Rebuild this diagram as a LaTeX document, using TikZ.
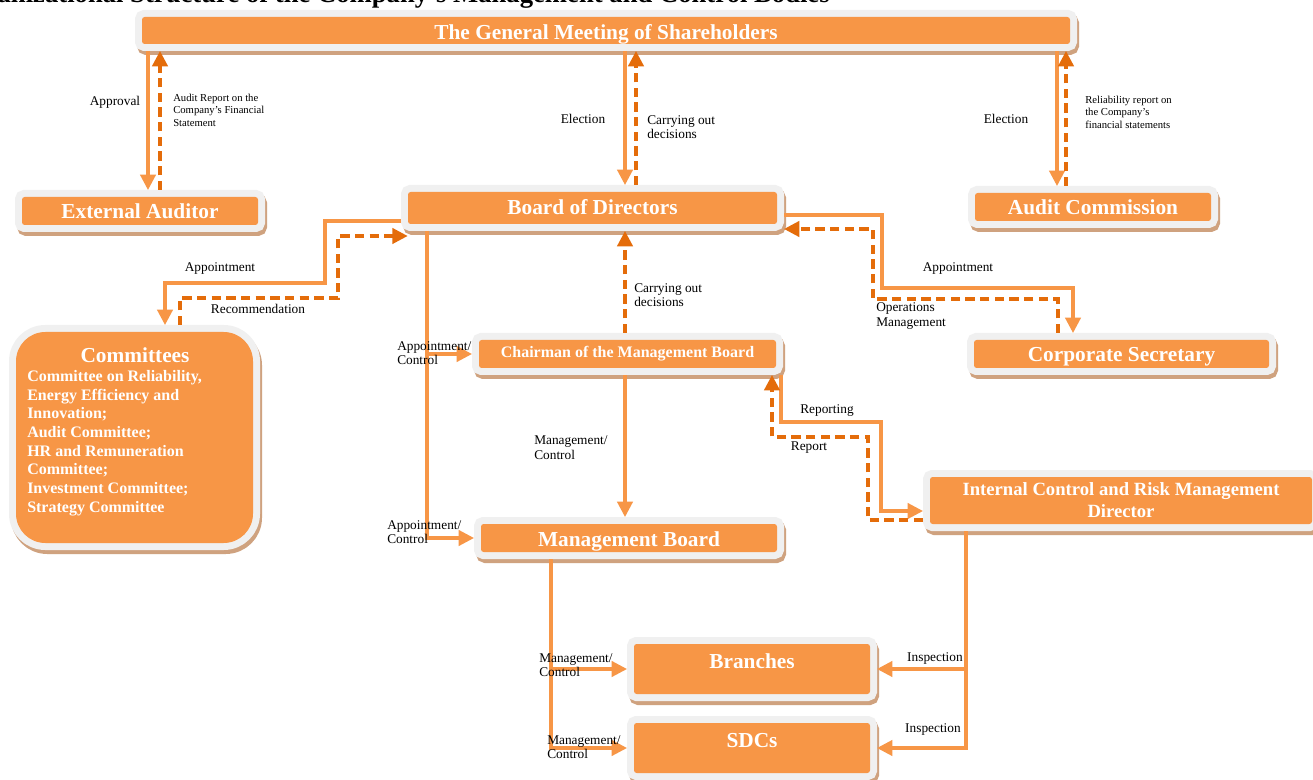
\documentclass[tikz,border=0pt]{standalone}
\usepackage{fontspec}
\setmainfont{Liberation Serif}
\usetikzlibrary{arrows.meta,calc}
\definecolor{boxorange}{HTML}{F79646}
\definecolor{boxgray}{HTML}{F0F0F0}
\definecolor{shadowtan}{HTML}{CFA27F}
\definecolor{lineorange}{HTML}{F79646}
\definecolor{darkorange}{HTML}{E46C0A}
\begin{document}
\begin{tikzpicture}[x=0.75pt,y=-0.75pt,
  obox/.style={fill=boxorange, text=white, font=\bfseries\fontsize{16}{18}\selectfont,
    rounded corners=2pt, inner sep=0pt, outer sep=5.25pt, align=center,
    preaction={draw=shadowtan, fill=shadowtan, line width=10.5pt, transform canvas={shift={(1.5pt,-3pt)}}},
    preaction={draw=boxgray, fill=boxgray, line width=10.5pt}},
  onel/.style={text height=16.5pt, text depth=4.5pt},
  sarrow/.style={draw=lineorange, line width=2.3pt, -{Triangle[length=11.5pt,width=11.5pt]}},
  darrow/.style={draw=darkorange, line width=2.4pt, dash pattern=on 7pt off 4pt, -{Triangle[length=11.5pt,width=11.5pt]}},
  lbl/.style={font=\fontsize{10}{11}\selectfont, inner sep=0pt, align=left},
  tinylbl/.style={font=\fontsize{8}{9.4}\selectfont, inner sep=0pt, align=left},
]
\useasboundingbox[fill=white] (0,0) rectangle (1313,780);

% title (partly cut off at top-left, as in the reference)
\node[anchor=base east, inner sep=0pt, font=\bfseries\fontsize{20}{24}\selectfont] (title) at (830,3)
  {Organizational Structure of the Company’s Management and Control Bodies};

% boxes
\node[obox, minimum width=696pt, text height=16.9pt, text depth=3.35pt] (gm) at (606,30.5) {The General Meeting of Shareholders};
\node[obox, onel, minimum width=177pt] (ea) at (140,211) {External Auditor};
\node[obox, minimum width=276.75pt, text height=17.25pt, text depth=6.75pt] (bod) at (592.5,208) {Board of Directors};
\node[obox, onel, minimum width=177pt] (ac) at (1093,207) {Audit Commission};
\node[obox, rounded corners=22pt, minimum width=177.75pt, minimum height=158.25pt] (comm) at (134.5,437.5) {};
\node[anchor=base, inner sep=0pt, text=white, font=\bfseries\fontsize{16}{18}\selectfont] (commtitle) at (135,363) {Committees};
\node[anchor=north west, inner sep=0pt, text=white, align=left, font=\bfseries\fontsize{12}{14}\selectfont] (commlist) at (27,370)
  {Committee on Reliability,\\Energy Efficiency and\\Innovation;\\Audit Committee;\\HR and Remuneration\\Committee;\\Investment Committee;\\Strategy Committee};
\node[obox, font=\bfseries\fontsize{12}{14}\selectfont, minimum width=222.75pt, minimum height=21pt] (ch) at (627.5,354) {Chairman of the Management Board};
\node[obox, onel, minimum width=221.25pt] (cs) at (1121.5,354) {Corporate Secretary};
\node[obox, font=\bfseries\fontsize{14}{16.5}\selectfont, minimum width=286.5pt, minimum height=35.25pt] (ic) at (1121,500.5) {Internal Control and Risk Management\\Director};
\node[obox, onel, minimum width=222pt] (mb) at (629,538) {Management Board};
\node[obox, minimum width=177pt, text height=18pt, text depth=19.5pt] (br) at (752,669) {Branches};
\node[obox, minimum width=177pt, text height=18pt, text depth=19.5pt] (sdc) at (752,748) {SDCs};

% GM <-> External Auditor
\draw[sarrow] (gm.south -| 148,0) -- (ea.north -| 148,0);
\draw[darrow] (ea.north -| 160,0) -- (gm.south -| 160,0);
\node[lbl] (lapp) at (115,102) {Approval};
\node[tinylbl, anchor=west] (lar) at (173,110) {Audit Report on the\\Company’s Financial\\Statement};

% GM <-> Board
\draw[sarrow] (gm.south -| 625,0) -- (bod.north -| 625,0);
\draw[darrow] (bod.north -| 636,0) -- (gm.south -| 636,0);
\node[lbl] (lel1) at (583,119) {Election};
\node[lbl, anchor=west] (lcd1) at (647,127) {Carrying out\\decisions};

% GM <-> Audit Commission
\draw[sarrow] (gm.south -| 1057,0) -- (ac.north -| 1057,0);
\draw[darrow] (ac.north -| 1066,0) -- (gm.south -| 1066,0);
\node[lbl] (lel2) at (1006,119) {Election};
\node[tinylbl, anchor=west] (lrr) at (1085,112) {Reliability report on\\the Company’s\\financial statements};

% Board <-> Committees
\draw[sarrow] (bod.west |- 0,221) -| (325,283) -| (comm.north -| 165,0);
\draw[darrow] (comm.north -| 180,0) |- (338,298) |- ([xshift=5pt]bod.west |- 0,236);
\node[lbl] (lapt1) at (220,269) {Appointment};
\node[lbl] (lrec) at (258,309) {Recommendation};

% Board -> Chairman / Management Board
\draw[sarrow] (bod.south -| 427,0) |- (ch.west);
\draw[sarrow] (bod.south -| 427,0) |- (mb.west);
\node[lbl, anchor=west] (lac1) at (397,353) {Appointment/\\Control};
\node[lbl, anchor=west] (lac2) at (387,532) {Appointment/\\Control};

% Chairman -> Board, Chairman -> Management Board
\draw[darrow] (ch.north -| 625,0) -- (bod.south -| 625,0);
\node[lbl, anchor=west] (lcd2) at (634,295) {Carrying out\\decisions};
\draw[sarrow] (ch.south -| 625,0) -- (mb.north -| 625,0);
\node[lbl, anchor=west] (lmc1) at (534,448) {Management/\\Control};

% Board <-> Corporate Secretary
\draw[sarrow] (bod.east |- 0,215) -| (882,288) -| (cs.north -| 1073,0);
\draw[darrow] (cs.north -| 1058,0) |- (873,299) |- (bod.east |- 0,229);
\node[lbl] (lapt2) at (958,269) {Appointment};
\node[lbl, anchor=west] (lom) at (876,316) {Operations\\Management};

% Chairman <-> Internal Control
\draw[sarrow] (ch.south -| 781,0) |- (881,422) |- (ic.west |- 0,511);
\draw[darrow] (ic.west |- 0,520) -| (868,437) -| (ch.south -| 772,0);
\node[lbl] (lrep) at (827,411) {Reporting};
\node[lbl] (lrept) at (809,448) {Report};

% Management Board -> Branches / SDCs
\draw[sarrow] (mb.south -| 551,0) |- (br.west);
\draw[sarrow] (mb.south -| 551,0) |- (sdc.west);
\node[lbl, anchor=west] (lmc2) at (539,665) {Management/\\Control};
\node[lbl, anchor=west] (lmc3) at (547,747) {Management/\\Control};

% Internal Control -> Branches / SDCs
\draw[sarrow] (ic.south -| 966,0) |- (br.east);
\draw[sarrow] (ic.south -| 966,0) |- (sdc.east);
\node[lbl] (lins1) at (935,659) {Inspection};
\node[lbl] (lins2) at (933,730) {Inspection};
\end{tikzpicture}
\end{document}
